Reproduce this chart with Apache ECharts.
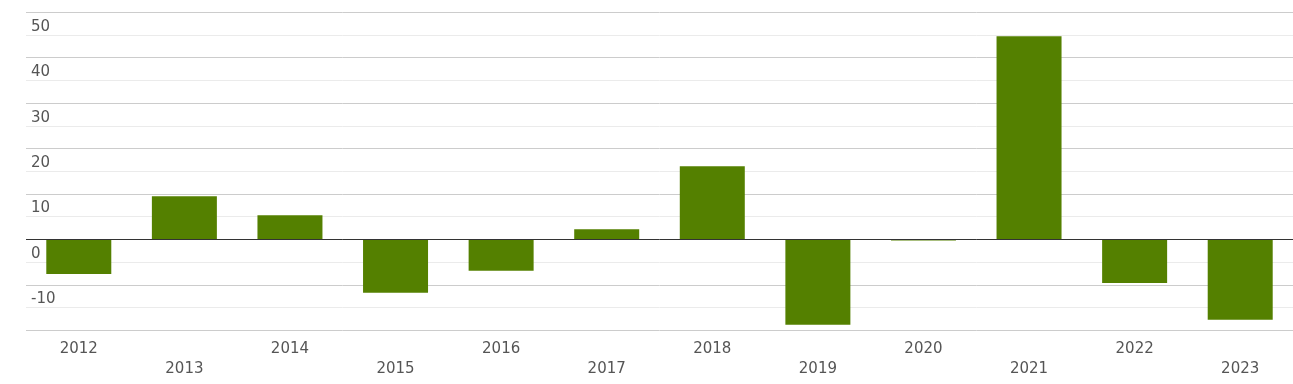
<!DOCTYPE html>
<html>
<head>
<meta charset="utf-8">
<script src="https://cdn.jsdelivr.net/npm/echarts@6/dist/echarts.min.js"></script>
<style>html,body{margin:0;padding:0;background:#fff}#c{width:1293px;height:384px}</style>
</head>
<body>
<div id="c"></div>
<script>
const categories = ['2012','2013','2014','2015','2016','2017','2018','2019','2020','2021','2022','2023'];
const values = [-7.6, 9.5, 5.35, -11.75, -6.9, 2.27, 16.1, -18.8, -0.25, 44.75, -9.6, -17.7];
const yTicks = { min: -20, max: 50, interval: 10 };

const chart = echarts.init(document.getElementById('c'), null, { renderer: 'canvas' });
chart.setOption({
  animation: false,
  grid: { left: 26, right: 0, top: 12.3, bottom: 53.7, containLabel: false },
  xAxis: {
    type: 'category',
    data: categories,
    axisLine: { show: false, onZero: false },
    axisTick: { show: false },
    splitLine: { show: false },
    axisLabel: {
      interval: 0,
      margin: 9,
      color: '#555',
      fontFamily: 'DejaVu Sans',
      fontSize: 15,
      lineHeight: 20,
      verticalAlign: 'top',
      formatter: (v, i) => (i % 2 ? '\n' + v : v)
    }
  },
  yAxis: {
    type: 'value',
    min: yTicks.min,
    max: yTicks.max,
    interval: yTicks.interval,
    axisLine: { show: false },
    axisTick: { show: false },
    splitLine: { show: true, lineStyle: { color: '#cccccc', width: 1 } },
    minorTick: { show: false, splitNumber: 2 },
    minorSplitLine: { show: true, lineStyle: { color: '#ebebeb', width: 1 } },
    axisLabel: {
      inside: true,
      margin: 5,
      align: 'left',
      verticalAlign: 'top',
      lineHeight: 15,
      padding: [7, 0, 0, 0],
      color: '#555',
      fontFamily: 'DejaVu Sans',
      fontSize: 15,
      showMinLabel: false
    }
  },
  series: [{
    type: 'bar',
    data: values,
    barWidth: 65,
    itemStyle: { color: '#548000' },
    markLine: {
      silent: true,
      symbol: ['none', 'none'],
      label: { show: false },
      lineStyle: { color: '#333333', width: 1, type: 'solid' },
      data: [{ yAxis: 0 }]
    }
  }]
});
</script>
</body>
</html>
